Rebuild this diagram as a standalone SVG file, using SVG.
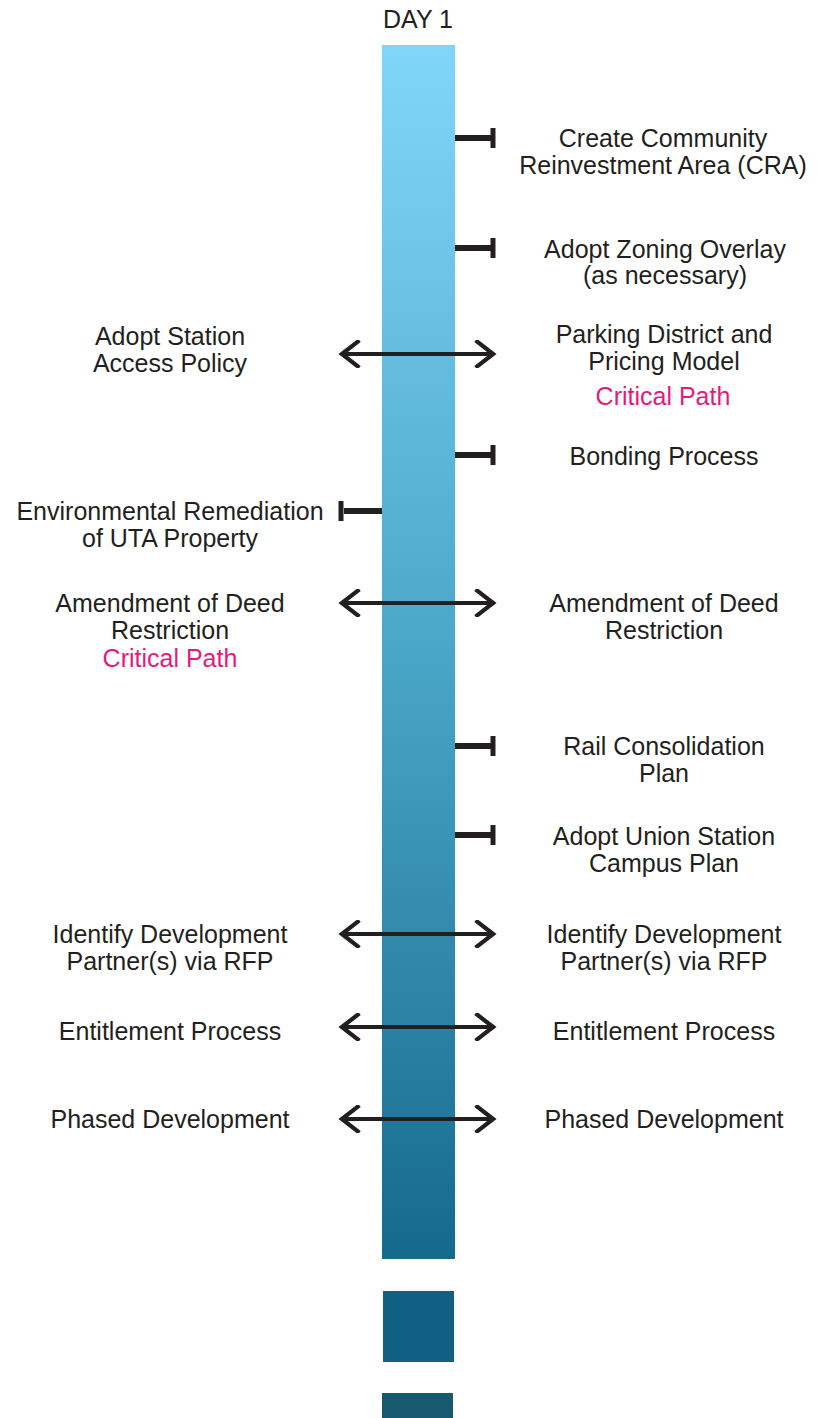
<svg xmlns="http://www.w3.org/2000/svg" width="820" height="1418" viewBox="0 0 820 1418">
<defs>
<linearGradient id="bar" x1="0" y1="0" x2="0" y2="1">
<stop offset="0" stop-color="#80d6f8"/>
<stop offset="0.5" stop-color="#4aa6c8"/>
<stop offset="1" stop-color="#156a8c"/>
</linearGradient>
<marker id="ah" viewBox="0 0 10 10" refX="8.3" refY="5" markerWidth="7" markerHeight="7" markerUnits="strokeWidth" orient="auto-start-reverse">
<path d="M2.3,0.6 L8,5 L2.3,9.4" fill="none" stroke="#231f20" stroke-width="1.5" stroke-linecap="square"/>
</marker>
</defs>
<style>
text{font-family:"Liberation Sans","Noto Sans",sans-serif;font-size:25px;fill:#231f20;text-anchor:middle}
.cp{fill:#e5197e}
.arr{stroke:#231f20;stroke-width:4;fill:none;marker-start:url(#ah);marker-end:url(#ah)}
.tk{stroke:#231f20;stroke-width:6;fill:none}
.cap{stroke:#231f20;stroke-width:5;fill:none}
</style>
<g id="timeline">
<text x="418" y="28">DAY 1</text>
<rect x="382" y="45" width="73" height="1214" fill="url(#bar)"/>
<rect x="383" y="1291" width="71" height="71" fill="#116083"/>
<rect x="382" y="1393" width="71" height="25" fill="#17596f"/>
</g>
<g id="connectors">
<path class="tk" d="M455,138 H493"/><path class="cap" d="M493,128 V148"/>
<path class="tk" d="M455,248 H493"/><path class="cap" d="M493,238 V258"/>
<path class="tk" d="M455,455 H493"/><path class="cap" d="M493,445 V465"/>
<path class="tk" d="M344,511 H382"/><path class="cap" d="M341,501 V521"/>
<path class="tk" d="M455,746 H493"/><path class="cap" d="M493,736 V756"/>
<path class="tk" d="M455,835 H493"/><path class="cap" d="M493,825 V845"/>
<path class="arr" d="M341,354 H494"/>
<path class="arr" d="M341,603 H494"/>
<path class="arr" d="M341,934 H494"/>
<path class="arr" d="M341,1027 H494"/>
<path class="arr" d="M341,1119 H494"/>
</g>
<g id="n-cra"><text x="663" y="147">Create Community</text><text x="663" y="174">Reinvestment Area (CRA)</text></g>
<g id="n-zoning"><text x="665" y="258">Adopt Zoning Overlay</text><text x="665" y="284">(as necessary)</text></g>
<g id="n-parking"><text x="664" y="343">Parking District and</text><text x="664" y="370">Pricing Model</text><text class="cp" x="663" y="405">Critical Path</text></g>
<g id="n-access"><text x="170" y="345">Adopt Station</text><text x="170" y="372">Access Policy</text></g>
<g id="n-bonding"><text x="664" y="465">Bonding Process</text></g>
<g id="n-env"><text x="170" y="520">Environmental Remediation</text><text x="170" y="547">of UTA Property</text></g>
<g id="n-deed-l"><text x="170" y="612">Amendment of Deed</text><text x="170" y="639">Restriction</text><text class="cp" x="170" y="667">Critical Path</text></g>
<g id="n-deed-r"><text x="664" y="612">Amendment of Deed</text><text x="664" y="639">Restriction</text></g>
<g id="n-rail"><text x="664" y="755">Rail Consolidation</text><text x="664" y="782">Plan</text></g>
<g id="n-campus"><text x="664" y="845">Adopt Union Station</text><text x="664" y="872">Campus Plan</text></g>
<g id="n-rfp-l"><text x="170" y="943">Identify Development</text><text x="170" y="970">Partner(s) via RFP</text></g>
<g id="n-rfp-r"><text x="664" y="943">Identify Development</text><text x="664" y="970">Partner(s) via RFP</text></g>
<g id="n-ent-l"><text x="170" y="1040">Entitlement Process</text></g>
<g id="n-ent-r"><text x="664" y="1040">Entitlement Process</text></g>
<g id="n-phase-l"><text x="170" y="1128">Phased Development</text></g>
<g id="n-phase-r"><text x="664" y="1128">Phased Development</text></g>
</svg>
